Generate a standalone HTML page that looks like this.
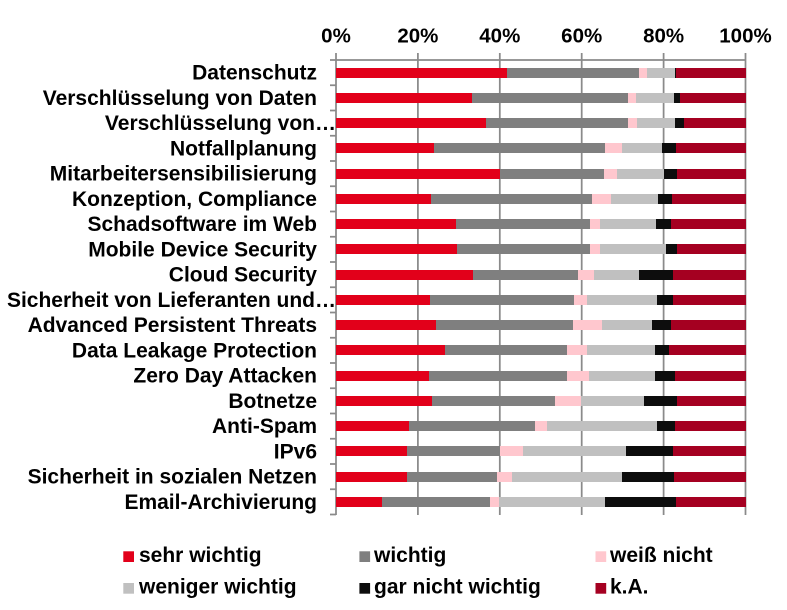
<!DOCTYPE html>
<html>
<head>
<meta charset="utf-8">
<style>
  html,body{margin:0;padding:0;background:#fff;}
  body{width:787px;height:610px;position:relative;overflow:hidden;font-family:"Liberation Sans",Arial,sans-serif;}
  svg{position:absolute;left:0;top:0;}
  .bar{position:absolute;left:336px;width:409.5px;height:10px;display:flex;}
  .bar div{height:10px;flex:none;}
  .bar div:last-child{flex:1;}
  .r{background:#E2001A;} .g{background:#7F7F7F;} .p{background:#FFC7CE;}
  .l{background:#C0C0C0;} .b{background:#0D0D0D;} .d{background:#A50021;}
</style>
</head>
<body>
<svg width="787" height="610" xmlns="http://www.w3.org/2000/svg">
  <g stroke="#8a8a8a" stroke-width="1.75" fill="none">
    <line x1="336" y1="53" x2="336" y2="515"/>
    <line x1="417.9" y1="53" x2="417.9" y2="515"/>
    <line x1="499.8" y1="53" x2="499.8" y2="515"/>
    <line x1="581.7" y1="53" x2="581.7" y2="515"/>
    <line x1="663.6" y1="53" x2="663.6" y2="515"/>
    <line x1="745.5" y1="53" x2="745.5" y2="515"/>
    <line x1="330" y1="60" x2="746" y2="60"/>
    <line x1="330" y1="85.25" x2="336" y2="85.25"/>
    <line x1="330" y1="110.5" x2="336" y2="110.5"/>
    <line x1="330" y1="135.75" x2="336" y2="135.75"/>
    <line x1="330" y1="161" x2="336" y2="161"/>
    <line x1="330" y1="186.25" x2="336" y2="186.25"/>
    <line x1="330" y1="211.5" x2="336" y2="211.5"/>
    <line x1="330" y1="236.75" x2="336" y2="236.75"/>
    <line x1="330" y1="262" x2="336" y2="262"/>
    <line x1="330" y1="287.25" x2="336" y2="287.25"/>
    <line x1="330" y1="312.5" x2="336" y2="312.5"/>
    <line x1="330" y1="337.75" x2="336" y2="337.75"/>
    <line x1="330" y1="363" x2="336" y2="363"/>
    <line x1="330" y1="388.25" x2="336" y2="388.25"/>
    <line x1="330" y1="413.5" x2="336" y2="413.5"/>
    <line x1="330" y1="438.75" x2="336" y2="438.75"/>
    <line x1="330" y1="464" x2="336" y2="464"/>
    <line x1="330" y1="489.25" x2="336" y2="489.25"/>
    <line x1="330" y1="514.5" x2="336" y2="514.5"/>
  </g>
  <g font-family="Liberation Sans, Arial, sans-serif" font-weight="bold" font-size="20.5" fill="#000" text-anchor="middle">
    <text x="336" y="42.5">0%</text>
    <text x="417.9" y="42.5">20%</text>
    <text x="499.8" y="42.5">40%</text>
    <text x="581.7" y="42.5">60%</text>
    <text x="663.6" y="42.5">80%</text>
    <text x="745.5" y="42.5">100%</text>
  </g>
  <g font-family="Liberation Sans, Arial, sans-serif" font-weight="bold" font-size="21" fill="#000" text-anchor="end">
    <text x="317" y="79.6">Datenschutz</text>
    <text x="317" y="104.85">Verschlüsselung von Daten</text>
    <text x="336" y="130.1">Verschlüsselung von…</text>
    <text x="317" y="155.35">Notfallplanung</text>
    <text x="317" y="180.6">Mitarbeitersensibilisierung</text>
    <text x="317" y="205.85">Konzeption, Compliance</text>
    <text x="317" y="231.1">Schadsoftware im Web</text>
    <text x="317" y="256.35">Mobile Device Security</text>
    <text x="317" y="281.6">Cloud Security</text>
    <text x="336" y="306.85">Sicherheit von Lieferanten und…</text>
    <text x="317" y="332.1">Advanced Persistent Threats</text>
    <text x="317" y="357.35">Data Leakage Protection</text>
    <text x="317" y="382.6">Zero Day Attacken</text>
    <text x="317" y="407.85">Botnetze</text>
    <text x="317" y="433.1">Anti-Spam</text>
    <text x="317" y="458.35">IPv6</text>
    <text x="317" y="483.6">Sicherheit in sozialen Netzen</text>
    <text x="317" y="508.85">Email-Archivierung</text>
  </g>
  <g>
    <rect x="123.3" y="551.3" width="10.7" height="10.7" fill="#E2001A"/>
    <rect x="359.4" y="551.3" width="10.7" height="10.7" fill="#7F7F7F"/>
    <rect x="595.5" y="551.3" width="10.7" height="10.7" fill="#FFC7CE"/>
    <rect x="123.3" y="583" width="10.7" height="10.7" fill="#C0C0C0"/>
    <rect x="359.4" y="583" width="10.7" height="10.7" fill="#0D0D0D"/>
    <rect x="595.5" y="583" width="10.7" height="10.7" fill="#A50021"/>
  </g>
  <g font-family="Liberation Sans, Arial, sans-serif" font-weight="bold" font-size="21" fill="#000">
    <text x="139" y="562">sehr wichtig</text>
    <text x="374" y="562">wichtig</text>
    <text x="610" y="562">weiß nicht</text>
    <text x="139" y="593.7">weniger wichtig</text>
    <text x="374" y="593.7">gar nicht wichtig</text>
    <text x="610" y="593.7">k.A.</text>
  </g>
</svg>

<div class="bar" style="top:67.6px"><div class="r" style="width:41.8%"></div><div class="g" style="width:32.2%"></div><div class="p" style="width:1.9%"></div><div class="l" style="width:6.9%"></div><div class="b" style="width:0.3%"></div><div class="d"></div></div>
<div class="bar" style="top:92.85px"><div class="r" style="width:33.2%"></div><div class="g" style="width:38.1%"></div><div class="p" style="width:1.9%"></div><div class="l" style="width:9.3%"></div><div class="b" style="width:1.6%"></div><div class="d"></div></div>
<div class="bar" style="top:118.1px"><div class="r" style="width:36.6%"></div><div class="g" style="width:34.7%"></div><div class="p" style="width:2.2%"></div><div class="l" style="width:9.4%"></div><div class="b" style="width:2.0%"></div><div class="d"></div></div>
<div class="bar" style="top:143.35px"><div class="r" style="width:23.9%"></div><div class="g" style="width:41.9%"></div><div class="p" style="width:4.1%"></div><div class="l" style="width:9.7%"></div><div class="b" style="width:3.5%"></div><div class="d"></div></div>
<div class="bar" style="top:168.6px"><div class="r" style="width:40.1%"></div><div class="g" style="width:25.3%"></div><div class="p" style="width:3.2%"></div><div class="l" style="width:11.5%"></div><div class="b" style="width:3.3%"></div><div class="d"></div></div>
<div class="bar" style="top:193.85px"><div class="r" style="width:23.2%"></div><div class="g" style="width:39.3%"></div><div class="p" style="width:4.7%"></div><div class="l" style="width:11.5%"></div><div class="b" style="width:3.4%"></div><div class="d"></div></div>
<div class="bar" style="top:219.1px"><div class="r" style="width:29.2%"></div><div class="g" style="width:32.9%"></div><div class="p" style="width:2.4%"></div><div class="l" style="width:13.7%"></div><div class="b" style="width:3.6%"></div><div class="d"></div></div>
<div class="bar" style="top:244.35px"><div class="r" style="width:29.6%"></div><div class="g" style="width:32.5%"></div><div class="p" style="width:2.4%"></div><div class="l" style="width:16.0%"></div><div class="b" style="width:2.9%"></div><div class="d"></div></div>
<div class="bar" style="top:269.6px"><div class="r" style="width:33.5%"></div><div class="g" style="width:25.7%"></div><div class="p" style="width:3.7%"></div><div class="l" style="width:11.2%"></div><div class="b" style="width:8.1%"></div><div class="d"></div></div>
<div class="bar" style="top:294.85px"><div class="r" style="width:23.0%"></div><div class="g" style="width:35.1%"></div><div class="p" style="width:3.2%"></div><div class="l" style="width:17.2%"></div><div class="b" style="width:3.9%"></div><div class="d"></div></div>
<div class="bar" style="top:320.1px"><div class="r" style="width:24.5%"></div><div class="g" style="width:33.4%"></div><div class="p" style="width:7.1%"></div><div class="l" style="width:12.2%"></div><div class="b" style="width:4.6%"></div><div class="d"></div></div>
<div class="bar" style="top:345.35px"><div class="r" style="width:26.5%"></div><div class="g" style="width:30.0%"></div><div class="p" style="width:4.8%"></div><div class="l" style="width:16.6%"></div><div class="b" style="width:3.5%"></div><div class="d"></div></div>
<div class="bar" style="top:370.6px"><div class="r" style="width:22.6%"></div><div class="g" style="width:33.9%"></div><div class="p" style="width:5.4%"></div><div class="l" style="width:16.0%"></div><div class="b" style="width:5.0%"></div><div class="d"></div></div>
<div class="bar" style="top:395.85px"><div class="r" style="width:23.5%"></div><div class="g" style="width:30.1%"></div><div class="p" style="width:6.3%"></div><div class="l" style="width:15.3%"></div><div class="b" style="width:8.2%"></div><div class="d"></div></div>
<div class="bar" style="top:421.1px"><div class="r" style="width:17.8%"></div><div class="g" style="width:30.7%"></div><div class="p" style="width:3.1%"></div><div class="l" style="width:26.7%"></div><div class="b" style="width:4.6%"></div><div class="d"></div></div>
<div class="bar" style="top:446.35px"><div class="r" style="width:17.3%"></div><div class="g" style="width:22.7%"></div><div class="p" style="width:5.7%"></div><div class="l" style="width:25.2%"></div><div class="b" style="width:11.3%"></div><div class="d"></div></div>
<div class="bar" style="top:471.6px"><div class="r" style="width:17.3%"></div><div class="g" style="width:21.9%"></div><div class="p" style="width:3.8%"></div><div class="l" style="width:26.9%"></div><div class="b" style="width:12.6%"></div><div class="d"></div></div>
<div class="bar" style="top:496.85px"><div class="r" style="width:11.3%"></div><div class="g" style="width:26.3%"></div><div class="p" style="width:2.3%"></div><div class="l" style="width:25.7%"></div><div class="b" style="width:17.5%"></div><div class="d"></div></div>
</body>
</html>
